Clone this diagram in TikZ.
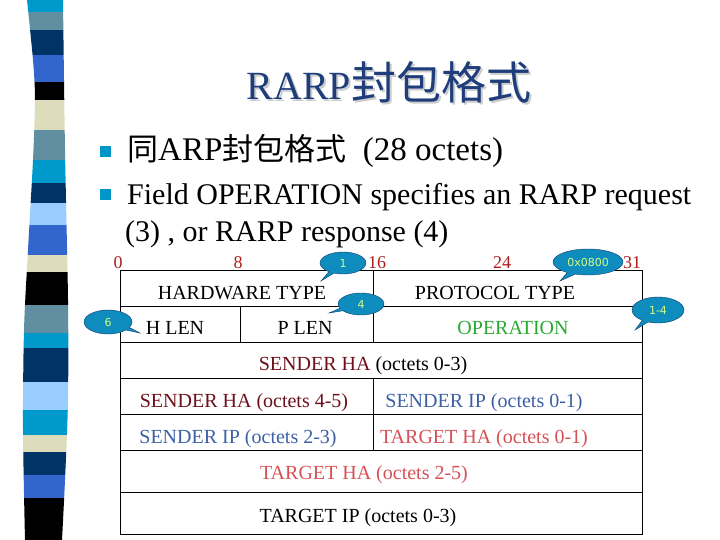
\documentclass[tikz,border=0pt]{standalone}
\usepackage{fontspec}
\setmainfont{Liberation Serif}
\newfontfamily\cjk{Noto Sans CJK TC}
\newfontfamily\bubblefont{DejaVu Sans}
\usetikzlibrary{shapes.callouts}
\definecolor{titleBlue}{RGB}{31, 61, 122}
\definecolor{bulletBlue}{RGB}{0, 150, 200}
\definecolor{bitRed}{RGB}{170, 30, 30}
\definecolor{bubbleBlue}{RGB}{14, 140, 190}
\definecolor{bubbleEdge}{RGB}{20, 60, 110}
\definecolor{bubbleText}{RGB}{210, 255, 130}
\definecolor{operGreen}{RGB}{40, 170, 50}
\definecolor{senderHA}{RGB}{110, 15, 25}
\definecolor{senderIP}{RGB}{60, 95, 165}
\definecolor{targetHA}{RGB}{215, 80, 85}
\definecolor{barCyan}{RGB}{0, 153, 204}
\definecolor{barSteel}{RGB}{95, 143, 160}
\definecolor{barNavy}{RGB}{0, 51, 102}
\definecolor{barRoyal}{RGB}{51, 102, 204}
\definecolor{barBeige}{RGB}{221, 221, 187}
\definecolor{barLight}{RGB}{153, 204, 255}

\begin{document}
\begin{tikzpicture}[x=1pt,y=-1pt,
    field/.style={font=\fontsize{20}{24}\selectfont,anchor=base,inner sep=0pt},
    bitnum/.style={font=\fontsize{18}{21}\selectfont,text=bitRed,anchor=base,inner sep=0pt},
    bullettext/.style={font=\fontsize{30}{36}\selectfont,anchor=base west,inner sep=0pt},
    bulletbox/.style={fill=bulletBlue,minimum size=11pt,inner sep=0pt},
    bubble/.style={ellipse callout,fill=bubbleBlue,draw=bubbleEdge,thin,text=bubbleText,
        font=\bubblefont\fontsize{11}{13}\selectfont,inner sep=0pt}]
    \useasboundingbox (0,0) rectangle (720,540);

    % side bar
    \begin{scope}
        \clip plot[smooth] coordinates {(27,0) (33,60) (35,100) (33,160) (28,250) (24,330) (23,430) (25,540)}
            -- plot[smooth] coordinates {(62,540) (65,480) (68,400) (68,300) (65,150) (63,0)} -- cycle;
        \foreach \ya/\yb/\col in {0/12/barCyan, 12/30/barSteel, 30/55/barNavy, 55/82/barRoyal,
            82/100/black, 100/130/barBeige, 130/160/barSteel, 160/183/barCyan, 183/203/barNavy,
            203/225/barLight, 225/255/barRoyal, 255/272/barBeige, 272/305/black, 305/333/barSteel,
            333/348/barCyan, 348/382/barNavy, 382/410/barLight, 410/435/barCyan, 435/452/barBeige,
            452/475/barNavy, 475/498/barRoyal, 498/540/black}
            \fill[\col] (15,\ya) rectangle (80,\yb);
    \end{scope}

    % title
    \node[font=\fontsize{40}{46}\selectfont,text=black!20] (titleshadow) at (391,84)
        {RARP{\cjk\fontsize{45}{50}\selectfont 封包格式}};
    \node[font=\fontsize{40}{46}\selectfont,text=titleBlue] (title) at (389,82)
        {RARP{\cjk\fontsize{45}{50}\selectfont 封包格式}};

    % bullets
    \node[bulletbox] (b1) at (105,152) {};
    \node[bulletbox] (b2) at (105,195) {};
    \node[bullettext,font=\fontsize{33}{38}\selectfont] (t1) at (127,161)
        {{\cjk\fontsize{31}{36}\selectfont 同}ARP{\cjk\fontsize{31}{36}\selectfont 封包格式}\ \ (28 octets)};
    \node[bullettext] (t2) at (127,205) {Field OPERATION specifies an RARP request};
    \node[bullettext] (t3) at (125,241) {(3) , or RARP response (4)};

    % bit positions
    \node[bitnum] (n0) at (118,268) {0};
    \node[bitnum] (n8) at (238,268) {8};
    \node[bitnum] (n16) at (377,268) {16};
    \node[bitnum] (n24) at (502,268) {24};
    \node[bitnum] (n31) at (632,268) {31};

    % packet layout
    \draw[thick] (120,270) rectangle (642,534);
    \foreach \y in {306,342,378,414,450,492}
        \draw[thick] (120,\y) -- (642,\y);
    \draw[thick] (373,270) -- (373,342);
    \draw[thick] (240,306) -- (240,342);
    \draw[thick] (373,378) -- (373,450);

    \node[field] (hw) at (242,299) {HARDWARE TYPE};
    \node[field] (proto) at (495,299) {PROTOCOL TYPE};
    \node[field] (hlen) at (175,334) {H LEN};
    \node[field] (plen) at (305,334) {P LEN};
    \node[field,text=operGreen] (oper) at (513,334) {OPERATION};
    \node[field] (sha1) at (363,370) {\textcolor{senderHA}{SENDER HA} (octets 0-3)};
    \node[field,text=senderHA] (sha2) at (244,407) {SENDER HA (octets 4-5)};
    \node[field,text=senderIP] (sip1) at (484,407) {SENDER IP (octets 0-1)};
    \node[field,text=senderIP] (sip2) at (238,443) {SENDER IP (octets 2-3)};
    \node[field,text=targetHA] (tha1) at (484,443) {TARGET HA (octets 0-1)};
    \node[field,text=targetHA] (tha2) at (364,479) {TARGET HA (octets 2-5)};
    \node[field] (tip) at (358,522) {TARGET IP (octets 0-3)};

    % callouts
    \node[bubble,minimum width=46pt,minimum height=22pt,callout absolute pointer={(321,281)}] (c1) at (343,263) {1};
    \node[bubble,minimum width=46pt,minimum height=22pt,callout absolute pointer={(329,313)}] (c4) at (361,304) {4};
    \node[bubble,minimum width=48pt,minimum height=24pt,callout absolute pointer={(140,333)}] (c6) at (108,322) {6};
    \node[bubble,minimum width=70pt,minimum height=26pt,callout absolute pointer={(560,281)}] (c0800) at (588,262) {0x0800};
    \node[bubble,minimum width=52pt,minimum height=26pt,callout absolute pointer={(635,330)}] (c14) at (658,310) {1-4};
\end{tikzpicture}
\end{document}
